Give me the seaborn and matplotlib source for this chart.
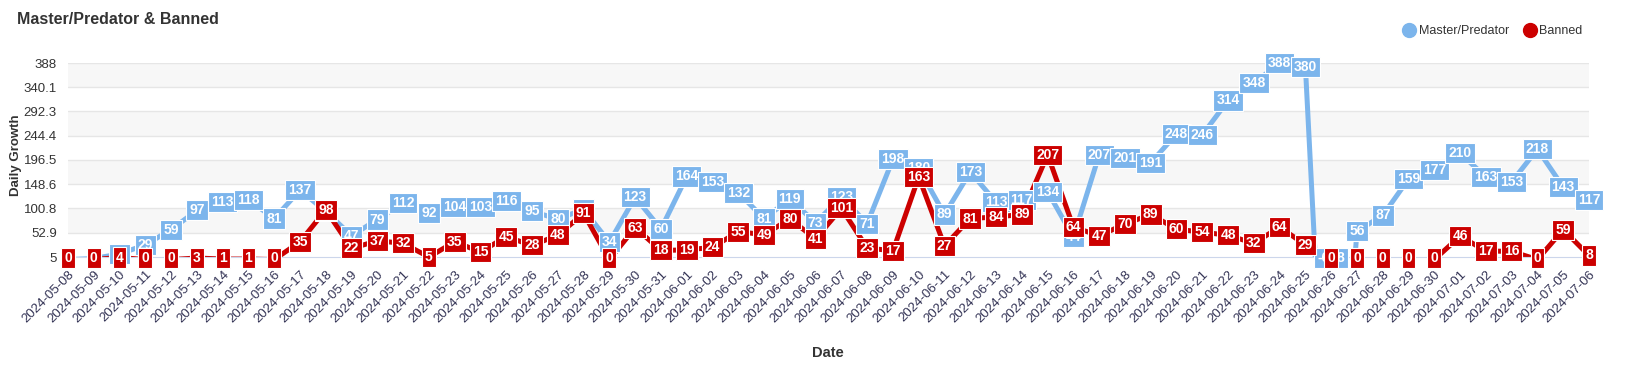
import pandas as pd
import numpy as np
import matplotlib
matplotlib.use("Agg")
import matplotlib.pyplot as plt
import seaborn as sns
from matplotlib.lines import Line2D

# 데이터
dates = list(pd.date_range("2024-05-08", "2024-07-06").strftime("%Y-%m-%d"))

master_predator = [0, 2, 11, 29, 59, 97, 113, 118, 81, 137,
                   95, 47, 79, 112, 92, 104, 103, 116, 95, 80,
                   99, 34, 123, 60, 164, 153, 132, 81, 119, 73,
                   123, 71, 198, 180, 89, 173, 113, 117, 134, 44,
                   207, 201, 191, 248, 246, 314, 348, 388, 380, -608,
                   56, 87, 159, 177, 210, 163, 153, 218, 143, 117]

banned = [0, 0, 4, 0, 0, 3, 1, 1, 0, 35,
          98, 22, 37, 32, 5, 35, 15, 45, 28, 48,
          91, 0, 63, 18, 19, 24, 55, 49, 80, 41,
          101, 23, 17, 163, 27, 81, 84, 89, 207, 64,
          47, 70, 89, 60, 54, 48, 32, 64, 29, 0,
          0, 0, 0, 0, 46, 17, 16, 0, 59, 8]

y_ticks = [5, 52.9, 100.8, 148.6, 196.5, 244.4, 292.3, 340.1, 388]

series_names = ["Master/Predator", "Banned"]
colors = {"Master/Predator": "#7cb5ec", "Banned": "#cc0000"}

df = pd.DataFrame({
    "pos": list(range(len(dates))) * 2,
    "value": master_predator + banned,
    "series": [series_names[0]] * len(dates) + [series_names[1]] * len(dates),
})

sns.set_style("white")
plt.rcParams["font.family"] = ["Liberation Sans", "DejaVu Sans"]

fig = plt.figure(figsize=(16.38, 3.74), dpi=100)
ax = fig.add_axes([68 / 1638, 1 - 257 / 374, (1589 - 68) / 1638, (257 - 63) / 374])

ymin, ymax = y_ticks[0], y_ticks[-1]

# 번갈아 칠한 배경 띠
for i in range(len(y_ticks) - 1):
    if i % 2 == 1:
        ax.axhspan(y_ticks[i], y_ticks[i + 1], color="#f7f7f7", zorder=0, lw=0)
for t in y_ticks[1:]:
    ax.axhline(t, color="#e6e6e6", lw=1, zorder=0.5)

sns.lineplot(data=df, x="pos", y="value", hue="series", palette=colors,
             hue_order=series_names, lw=3.6, sort=False, legend=False, ax=ax,
             zorder=2)

# 데이터 라벨
for k, (name, vals) in enumerate([(series_names[0], master_predator), (series_names[1], banned)]):
    for i, v in enumerate(vals):
        y = max(v, ymin - 2.5)
        ax.text(i, y, str(v), ha="center", va="center", color="white",
                fontsize=10, fontweight="bold", zorder=5 + k, clip_on=False,
                bbox=dict(boxstyle="square,pad=0.22", fc=colors[name],
                          ec="white", lw=0.8))

ax.set_xlim(0, len(dates) - 1)
ax.set_ylim(ymin, ymax)
ax.set_yticks(y_ticks)
ax.set_yticklabels([f"{t:g}" for t in y_ticks], fontsize=9.5, color="#333333")
ax.set_xticks(range(len(dates)))
ax.set_xticklabels(dates, rotation=45, ha="right", rotation_mode="anchor",
                   fontsize=9.5, color="#333355")
ax.tick_params(axis="x", length=5, color="#ccd6eb", pad=3)
ax.tick_params(axis="y", length=0, pad=8)

for s in ["top", "right", "left"]:
    ax.spines[s].set_visible(False)
ax.spines["bottom"].set_color("#ccd6eb")

ax.set_xlabel("")
ax.set_ylabel("")
fig.text(828 / 1638, 1 - 353 / 374, "Date", fontsize=10.5, fontweight="bold",
         color="#333333", ha="center", va="center")
fig.text(16 / 1638, 1 - 155 / 374, "Daily Growth", fontsize=9.5, fontweight="bold",
         color="#333333", ha="center", va="center", rotation=90)

fig.text(17 / 1638, 1 - 20 / 374, "Master/Predator & Banned", fontsize=11.5,
         fontweight="bold", color="#333333", va="center", ha="left")

handles = [Line2D([0], [0], marker="o", color="none", markerfacecolor=colors[n],
                  markeredgecolor=colors[n], markersize=10, label=n) for n in series_names]
fig.legend(handles=handles, loc="center right", bbox_to_anchor=(1594 / 1638, 1 - 31 / 374),
           ncol=2, frameon=False, fontsize=9, handletextpad=0.25, columnspacing=1.2,
           handlelength=1.0, labelcolor="#333333")

fig.savefig("out.png", dpi=100)
